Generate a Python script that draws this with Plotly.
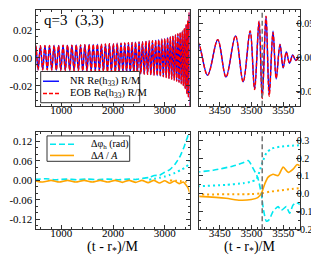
import plotly.graph_objects as go

# ---------------- data ----------------
# extrema of Re(h33) R/M (times and values)
t_ext = [460, 505, 550, 595, 639, 683, 727, 771, 815, 859, 903, 947, 990,
         1033, 1076, 1119, 1162, 1204, 1246, 1288, 1330, 1372, 1414, 1455, 1496,
         1537, 1577, 1617, 1657, 1697, 1736, 1775, 1814, 1853, 1892, 1930, 1968,
         2006, 2044, 2081, 2118, 2155, 2191, 2227, 2263, 2298, 2333, 2368, 2402, 2436, 2470,
         2504, 2537, 2570, 2603, 2636, 2668, 2700, 2732, 2763, 2794,
         2825, 2855, 2885, 2915, 2944, 2973,
         3001, 3029, 3056, 3083, 3109, 3135, 3160, 3185,
         3209, 3232, 3255, 3277, 3299,
         3320, 3340, 3360, 3379, 3397, 3415,
         3431, 3447, 3460, 3475, 3487, 3498, 3505, 3512, 3517, 3523, 3528, 3534,
         3539, 3545, 3550, 3555, 3560, 3565, 3570, 3575, 3580, 3595]
nr_h = [-0.0085, 0.0085, -0.0085, 0.0085, -0.0086, 0.0086, -0.0086, 0.0087, -0.0087, 0.0087, -0.0088, 0.0088, -0.0088,
        0.0089, -0.0089, 0.0089, -0.0090, 0.0090, -0.0091, 0.0091, -0.0091, 0.0092, -0.0092, 0.0093, -0.0093,
        0.0094, -0.0094, 0.0095, -0.0095, 0.0096, -0.0097, 0.0097, -0.0098, 0.0098, -0.0099, 0.0100, -0.0100,
        0.0101, -0.0102, 0.0102, -0.0103, 0.0104, -0.0105, 0.0106, -0.0107, 0.0107, -0.0108, 0.0109, -0.0110, 0.0111, -0.0112,
        0.0113, -0.0114, 0.0115, -0.0116, 0.0117, -0.0118, 0.0119, -0.0120, 0.0121, -0.0122,
        0.0124, -0.0126, 0.0128, -0.0130, 0.0132, -0.0134,
        0.0136, -0.0139, 0.0142, -0.0145, 0.0148, -0.0151, 0.0154, -0.0158,
        0.0162, -0.0166, 0.0170, -0.0174, 0.0178,
        -0.0183, 0.0189, -0.0196, 0.0205, -0.0218, 0.0235,
        -0.0255, 0.0264, -0.0280, 0.0320, -0.0350, 0.0390, -0.0460, 0.0530, -0.0590, 0.0600, -0.0540, 0.0390,
        -0.0310, 0.0200, -0.0150, 0.0085, -0.0080, 0.0040, -0.0040, 0.0010, 0.0000, 0.0000]
eob_h = [-0.0085, 0.0086, -0.0085, 0.0086, -0.0086, 0.0087, -0.0086, 0.0087, -0.0087, 0.0088, -0.0088, 0.0088, -0.0089,
         0.0089, -0.0089, 0.0090, -0.0090, 0.0090, -0.0091, 0.0092, -0.0091, 0.0092, -0.0093, 0.0093, -0.0093,
         0.0094, -0.0095, 0.0095, -0.0095, 0.0096, -0.0097, 0.0098, -0.0098, 0.0098, -0.0099, 0.0100, -0.0101,
         0.0101, -0.0102, 0.0103, -0.0103, 0.0104, -0.0105, 0.0106, -0.0107, 0.0108, -0.0108, 0.0109, -0.0110, 0.0111, -0.0112,
         0.0113, -0.0114, 0.0115, -0.0116, 0.0118, -0.0118, 0.0119, -0.0121, 0.0121, -0.0123,
         0.0124, -0.0126, 0.0128, -0.0131, 0.0132, -0.0135,
         0.0136, -0.0140, 0.0142, -0.0146, 0.0148, -0.0152, 0.0155, -0.0159,
         0.0163, -0.0167, 0.0171, -0.0175, 0.0179,
         -0.0184, 0.0190, -0.0197, 0.0206, -0.0219, 0.0236,
         -0.0257, 0.0266, -0.0283, 0.0322, -0.0352, 0.0393, -0.0465, 0.0535, -0.0595, 0.0610, -0.0560, 0.0370,
         -0.0300, 0.0190, -0.0140, 0.0080, -0.0075, 0.0035, -0.0035, 0.0010, 0.0000, 0.0000]

# phase difference (rad) EOB - NR
dphi_t = [480, 700, 900, 1100, 1300, 1500, 1700, 1900, 2100, 2300, 2450, 2600, 2700, 2800, 2900,
          3000, 3100, 3200, 3300, 3380, 3417, 3440, 3470, 3487, 3495, 3502, 3510, 3515.6, 3519,
          3523.5, 3528, 3534, 3542, 3547, 3555, 3560, 3565.6, 3571, 3576, 3590]
dphi = [0.003, 0.005, 0.002, 0.004, 0.002, 0.004, 0.002, 0.004, 0.002, 0.004, 0.003, 0.007, 0.009, 0.015, 0.016,
        0.025, 0.033, 0.050, 0.075, 0.105, 0.123, 0.132, 0.155, 0.174, 0.187, 0.147, 0.090, 0.000, -0.090,
        -0.155, -0.146, -0.100, -0.073, -0.094, -0.073, -0.110, -0.064, -0.050, -0.060, -0.055]
# NR phase uncertainty (dotted cyan)
dphi_nr_t = [2700, 2800, 2900, 3000, 3100, 3200, 3300, 3380, 3417, 3460, 3487, 3500, 3508, 3513,
             3518, 3523.5, 3531, 3545, 3560, 3590]
dphi_nr = [0.002, 0.005, 0.008, 0.012, 0.017, 0.023, 0.031, 0.038, 0.042, 0.050, 0.059, 0.068, 0.082, 0.128,
           0.183, 0.229, 0.253, 0.265, 0.270, 0.275]

# fractional amplitude difference (solid orange)
damp_t = [480, 640, 800, 960, 1120, 1280, 1440, 1600, 1750, 1900, 2040, 2180, 2310, 2440, 2560, 2680, 2790,
          2900, 3000, 3100, 3190, 3280, 3360, 3417, 3460, 3482, 3500, 3510, 3515.6, 3521, 3526, 3534,
          3542, 3550, 3558, 3566, 3572, 3576, 3590]
damp = [-0.001, -0.005, 0.000, -0.005, 0.000, -0.005, 0.000, -0.005, 0.000, -0.005, 0.000, -0.006, 0.000,
        -0.006, 0.000, -0.007, 0.000, -0.008, -0.001, -0.009, -0.002, -0.010, -0.005, -0.015, -0.026, -0.037,
        -0.033, -0.022, 0.000, 0.055, 0.092, 0.110, 0.102, 0.150, 0.120, 0.140, 0.165, 0.158, 0.160]
# NR amplitude uncertainty (dotted orange)
damp_nr_t = [3100, 3300, 3417, 3500, 3517, 3530, 3545, 3560, 3590]
damp_nr = [0.000, -0.002, -0.004, -0.002, 0.003, 0.012, 0.018, 0.025, 0.038]

t_peak = [3517]

# tick labels
top_left_y = [-0.02, 0.0, 0.02]
top_left_y_text = ["-0.02", "0.00", "0.02"]
top_right_y = [-0.05, 0.0, 0.05]
top_right_y_text = ["-0.05", "0.00", "0.05"]
bot_left_y = [-0.12, -0.06, 0.0, 0.06, 0.12]
bot_left_y_text = ["-0.12", "-0.06", "0.00", "0.06", "0.12"]
bot_right_y = [-0.2, -0.1, 0.0, 0.1, 0.2, 0.3]
bot_right_y_text = ["-0.2", "-0.1", "0.0", "0.1", "0.2", "0.3"]
left_x = [1000, 2000, 3000]
right_x = [3450, 3500, 3550]

# legend labels
leg_top = ["NR Re(h<sub>33</sub>) R/M", "EOB Re(h<sub>33</sub>) R/M"]
leg_bot = ["Δφ<sub>h</sub> (rad)", "Δ<i>A</i> / <i>A</i>"]

# ---------------- styles ----------------
BLUE = "#0000ff"
RED = "#ff0000"
CYAN = "#00e8f0"
ORANGE = "#ffa500"
FONT = "Liberation Serif"
W, H = 319, 255

def px(x):
    return x / W

def py(y):
    return 1 - y / H

RED_DASH = "4px,2px"
CYAN_DASH = "6px,3px"
DOT = "2px,3px"

fig = go.Figure()

for xa, ya in [("x", "y"), ("x2", "y2")]:
    fig.add_trace(go.Scatter(x=t_ext, y=nr_h, xaxis=xa, yaxis=ya, mode="lines",
                             line=dict(color=BLUE, width=1.4, shape="spline", smoothing=1.0),
                             name=leg_top[0], showlegend=False))
    fig.add_trace(go.Scatter(x=t_ext, y=eob_h, xaxis=xa, yaxis=ya, mode="lines",
                             line=dict(color=RED, width=1.4, dash=RED_DASH, shape="spline", smoothing=1.0),
                             name=leg_top[1], showlegend=False))

for xa, ya in [("x3", "y3"), ("x4", "y4")]:
    fig.add_trace(go.Scatter(x=dphi_nr_t, y=dphi_nr, xaxis=xa, yaxis=ya, mode="lines",
                             line=dict(color=CYAN, width=2, dash=DOT, shape="spline", smoothing=0.6),
                             showlegend=False))
    fig.add_trace(go.Scatter(x=damp_nr_t, y=damp_nr, xaxis=xa, yaxis=ya, mode="lines",
                             line=dict(color=ORANGE, width=2, dash=DOT, shape="spline", smoothing=0.6),
                             showlegend=False))
    fig.add_trace(go.Scatter(x=dphi_t, y=dphi, xaxis=xa, yaxis=ya, mode="lines",
                             line=dict(color=CYAN, width=1.6, dash=CYAN_DASH, shape="spline", smoothing=0.6),
                             name=leg_bot[0], showlegend=False))
    fig.add_trace(go.Scatter(x=damp_t, y=damp, xaxis=xa, yaxis=ya, mode="lines",
                             line=dict(color=ORANGE, width=1.6, shape="spline", smoothing=0.6),
                             name=leg_bot[1], showlegend=False))

shapes = []
for xa, ya in [("x2", "y2"), ("x4", "y4")]:
    shapes.append(dict(type="line", xref=xa, yref=ya + " domain",
                       x0=t_peak[0], x1=t_peak[0], y0=0, y1=1,
                       line=dict(color="#707070", width=1.5, dash="5px,3px"), layer="above"))

annotations = [dict(text="q=3\u00a0\u00a0(3,3)", xref="paper", yref="paper", x=0.108, y=0.949,
                    xanchor="left", yanchor="middle", showarrow=False,
                    font=dict(family=FONT, size=15, color="black"))]

# legend boxes drawn in paper coordinates
def legend_box(x0, x1, y0, y1, rows, labels, styles, s0, s1, tx, fs):
    shapes.append(dict(type="rect", xref="paper", yref="paper", x0=px(x0), x1=px(x1),
                       y0=py(y1), y1=py(y0), fillcolor="white",
                       line=dict(color="#333333", width=1), layer="above"))
    for r, lab, st in zip(rows, labels, styles):
        shapes.append(dict(type="line", xref="paper", yref="paper", x0=px(s0), x1=px(s1),
                           y0=py(r), y1=py(r), line=st, layer="above"))
        annotations.append(dict(text=lab, xref="paper", yref="paper", x=px(tx), y=py(r),
                                xanchor="left", yanchor="middle", showarrow=False,
                                font=dict(family=FONT, size=fs, color="black")))

legend_box(32.7, 131.7, 65, 97, [75, 87.5], leg_top,
           [dict(color=BLUE, width=1.4), dict(color=RED, width=1.4, dash=RED_DASH)],
           35, 51, 60, 10.5)
legend_box(39, 121.7, 131, 157, [139.5, 151], leg_bot,
           [dict(color=CYAN, width=1.6, dash=CYAN_DASH), dict(color=ORANGE, width=1.6)],
           42, 66, 81, 10)

LX = [px(27.5), px(181.5)]
RX = [px(191.3), px(291.7)]
TY = [py(100), py(2)]
BY = [py(226.5), py(126.6)]

axis_common = dict(showline=True, linecolor="#333333", linewidth=1, mirror="allticks",
                   ticks="inside", ticklen=4, tickcolor="#333333", showgrid=False, zeroline=False)
TICKFONT = dict(family=FONT, size=11, color="black")
RTICKFONT = dict(family=FONT, size=10, color="black")

def minor(d):
    return dict(ticks="inside", ticklen=2, dtick=d, tickcolor="#333333", showgrid=False)

xtitle = dict(text="(t - r<sub>*</sub>)/M", font=dict(family=FONT, size=14), standoff=0)

fig.update_layout(
    width=W, height=H, margin=dict(l=0, r=0, t=0, b=0),
    paper_bgcolor="white", plot_bgcolor="white", showlegend=False,
    font=dict(family=FONT, size=11, color="black"),
    xaxis=dict(domain=LX, range=[500, 3480], anchor="y", tickvals=left_x, tickfont=TICKFONT,
               minor=minor(200), ticklabelstandoff=-6, **axis_common),
    yaxis=dict(domain=TY, range=[-0.034, 0.034], anchor="x", tickvals=top_left_y, tickfont=TICKFONT,
               ticktext=top_left_y_text, minor=minor(0.005), **axis_common),
    xaxis2=dict(domain=RX, range=[3418, 3576], anchor="y2", tickvals=right_x, tickfont=TICKFONT,
                minor=minor(10), ticklabelstandoff=-6, **axis_common),
    yaxis2=dict(domain=TY, range=[-0.07, 0.07], anchor="x2", side="right", tickvals=top_right_y,
                tickfont=RTICKFONT, ticktext=top_right_y_text, minor=minor(0.01),
                ticklabelstandoff=-6, **axis_common),
    xaxis3=dict(domain=LX, range=[500, 3480], anchor="y3", tickvals=left_x, tickfont=TICKFONT,
                minor=minor(200), ticklabelstandoff=-6, title=xtitle, **axis_common),
    yaxis3=dict(domain=BY, range=[-0.15, 0.15], anchor="x3", tickvals=bot_left_y, tickfont=TICKFONT,
                ticktext=bot_left_y_text, minor=minor(0.02), **axis_common),
    xaxis4=dict(domain=RX, range=[3418, 3576], anchor="y4", tickvals=right_x, tickfont=TICKFONT,
                minor=minor(10), ticklabelstandoff=-6, title=xtitle, **axis_common),
    yaxis4=dict(domain=BY, range=[-0.2, 0.35], anchor="x4", side="right", tickvals=bot_right_y,
                tickfont=RTICKFONT, ticktext=bot_right_y_text, minor=minor(0.05),
                ticklabelstandoff=-6, **axis_common),
    shapes=shapes,
    annotations=annotations,
)

fig.write_html("out.html", config={"displayModeBar": False})
